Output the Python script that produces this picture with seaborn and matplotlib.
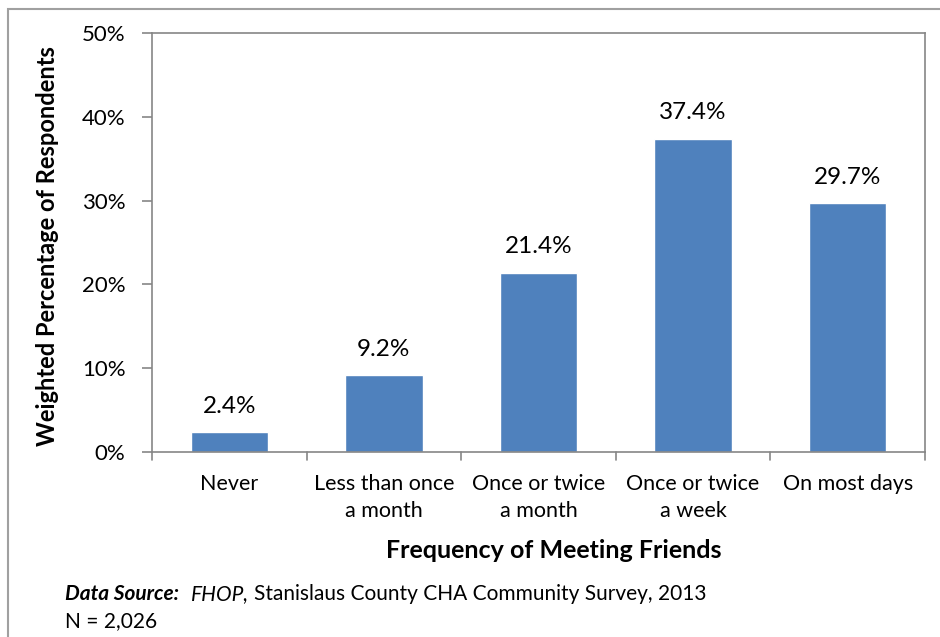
import matplotlib
matplotlib.use("Agg")
import matplotlib.pyplot as plt
import seaborn as sns
import pandas as pd
from matplotlib.patches import Rectangle

categories = ["Never", "Less than once\na month", "Once or twice\na month",
              "Once or twice\na week", "On most days"]
values = [2.4, 9.2, 21.4, 37.4, 29.7]
yticks = [0, 10, 20, 30, 40, 50]
ytick_labels = ["0%", "10%", "20%", "30%", "40%", "50%"]

sns.set_theme(style="white")
plt.rcParams['font.family'] = ['Lato', 'DejaVu Sans']
plt.rcParams['text.color'] = 'black'

W, H = 940, 637
fig = plt.figure(figsize=(9.4, 6.37), dpi=100)
ax = fig.add_axes([152 / W, 1 - 452 / H, (925 - 152) / W, (452 - 33) / H])

df = pd.DataFrame({"cat": categories, "val": values})
sns.barplot(data=df, x="cat", y="val", color="#4F81BD", saturation=1,
            width=0.5, ax=ax)

AX_COL = "#868686"
ax.set_ylim(0, 50)
ax.set_xlim(-0.5, 4.5)
ax.set_yticks(yticks)
ax.set_yticklabels(ytick_labels, fontsize=16)
ax.set_xticks(range(len(categories)))
ax.set_xticklabels(categories, fontsize=15.5, linespacing=1.4)
ax.tick_params(axis="x", length=0, pad=16, labelcolor="black")
ax.tick_params(axis="y", length=7.2, width=1.2, color=AX_COL, pad=12, left=True,
               labelcolor="black")
for b in [-0.5, 0.5, 1.5, 2.5, 3.5, 4.5]:
    ax.plot([b, b], [0, -0.02], transform=ax.get_xaxis_transform(),
            color=AX_COL, lw=1.2, clip_on=False)

for s in ax.spines.values():
    s.set_visible(True)
    s.set_color(AX_COL)
    s.set_linewidth(1.2)

for i, v in enumerate(values):
    ax.text(i, v + 2.3, f"{v:.1f}%", ha="center", va="baseline", fontsize=17.5,
            color="black")

ax.set_xlabel("")
ax.set_ylabel("")
fig.text(554 / W, 1 - 558 / H, "Frequency of Meeting Friends", fontsize=18,
         fontweight="bold", ha="center", va="baseline", color="black")
fig.text(47.5 / W, 1 - 246 / H, "Weighted Percentage of Respondents",
         fontsize=17, fontweight="bold", rotation=90, ha="center", va="center",
         color="black")

# outer chart frame
fig.patches.append(Rectangle((8 / W, -0.05), 1.0, 1 - 9 / H + 0.05,
                             transform=fig.transFigure, fill=False,
                             edgecolor="#a0a0a0", lw=1.5))

# source note, chained horizontally
renderer = fig.canvas.get_renderer()
y1 = 1 - 600 / H
t1 = fig.text(65 / W, y1, "Data Source:", fontsize=15, fontweight="bold",
              fontstyle="italic", va="baseline", color="black")
x_end = t1.get_window_extent(renderer).x1
t2 = fig.text((x_end + 12) / W, y1, "FHOP,", fontsize=15, fontstyle="italic",
              va="baseline", color="black")
x_end = t2.get_window_extent(renderer).x1
fig.text((x_end + 5) / W, y1, "Stanislaus County CHA Community Survey, 2013",
         fontsize=15, va="baseline", color="black")
fig.text(65 / W, 1 - 627 / H, "N = 2,026", fontsize=15, va="baseline",
         color="black")

fig.savefig("out.png", dpi=100)
